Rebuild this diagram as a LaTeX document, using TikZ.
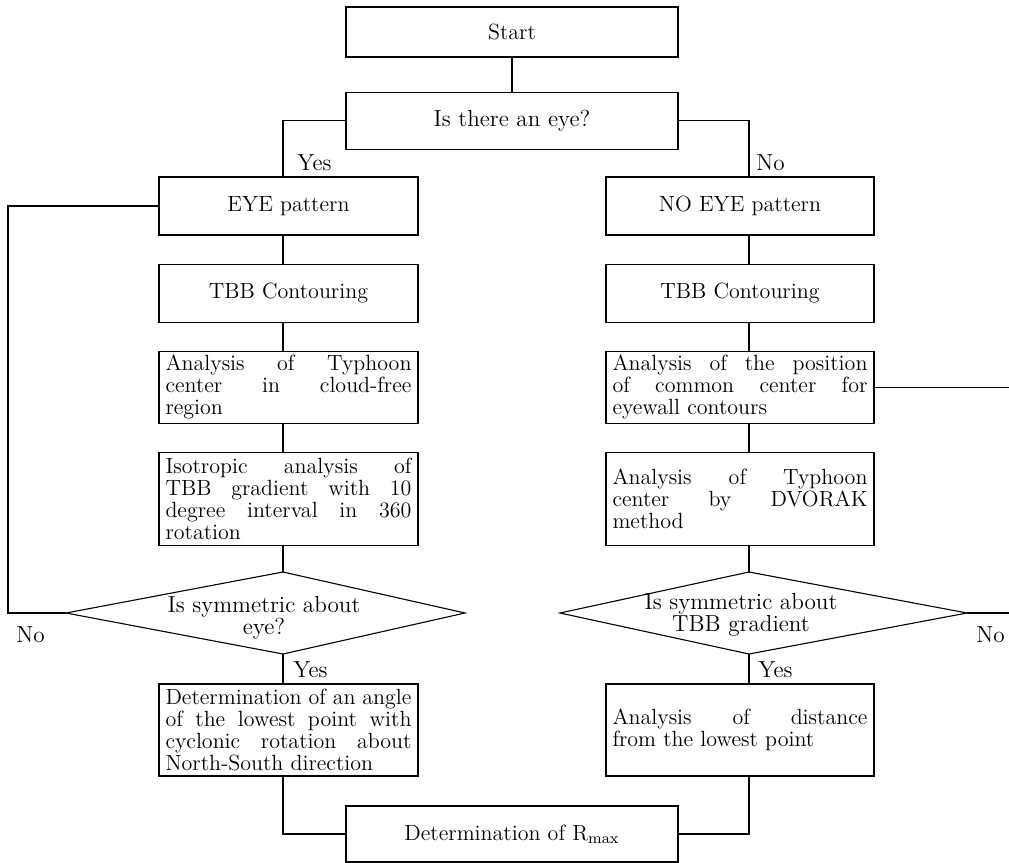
\documentclass[tikz,border=0pt]{standalone}
\usepackage{tikz}
\usetikzlibrary{positioning}

\newcommand{\flowfont}{\fontsize{11}{11}\selectfont}
\newcommand{\lblfont}{\fontsize{11.6}{11}\selectfont}

\tikzset{
    box/.style={draw, line width=0.55pt, font=\flowfont, align=center, inner xsep=3.25pt, inner ysep=2pt},
    lbox/.style={box, minimum width=129.5pt, minimum height=29pt},
    rbox/.style={box, minimum width=134pt, minimum height=29pt},
    ltext/.style={lbox, text width=123pt, align=justify},
    rtext/.style={rbox, text width=127.5pt, align=justify},
    wbox/.style={box, minimum width=166pt},
    lbl/.style={font=\lblfont, inner sep=0pt, anchor=west},
    link/.style={line width=0.55pt},
}

\begin{document}
\begin{tikzpicture}[x=0.5pt, y=-0.5pt]
    \useasboundingbox (0,0) rectangle (1009,863);

    \coordinate (lax) at (283,0);
    \coordinate (rax) at (749,0);
    \coordinate (lback) at (8,0);
    \coordinate (redge) at (1009,0);

    \node[wbox, minimum height=25pt] (start) at (512,32) {Start};
    \node[wbox, minimum height=28.5pt, below=17pt of start, font=\lblfont] (eye) {Is there an eye?};

    \node[lbox] (eyepat) at (288.5,206) {EYE pattern};
    \node[lbox, below=14pt of eyepat] (tbbl) {TBB Contouring};
    \node[ltext, minimum height=36pt, below=14pt of tbbl] (anl)
        {Analysis of Typhoon\linebreak center in cloud-free\linebreak region};
    \node[ltext, minimum height=46.5pt, below=14pt of anl] (isol)
        {Isotropic analysis of\linebreak TBB gradient with 10\linebreak degree interval in 360\linebreak rotation};

    \node[rbox] (noeyepat) at (740,206) {NO EYE pattern};
    \node[rbox, below=14pt of noeyepat] (tbbr) {TBB Contouring};
    \node[rtext, minimum height=36pt, below=14pt of tbbr] (anr)
        {Analysis of the position\linebreak of common center for\linebreak eyewall contours};
    \node[rtext, minimum height=46.5pt, below=14pt of anr] (dvr)
        {Analysis of Typhoon\linebreak center by DVORAK\linebreak method};

    \coordinate (dlt) at (283,572);
    \coordinate (dlr) at (465,613);
    \coordinate (dlb) at (283,654);
    \coordinate (dll) at (66,613);
    \coordinate (drt) at (749,572);
    \coordinate (drr) at (967,613);
    \coordinate (drb) at (749,654);
    \coordinate (drl) at (560,613);
    \draw[link] (dlt) -- (dlr) -- (dlb) -- (dll) -- cycle;
    \draw[link] (drt) -- (drr) -- (drb) -- (drl) -- cycle;
    \node[font=\lblfont, align=center, inner sep=0pt] (syml) at (264,618) {Is symmetric about\\eye?};
    \node[font=\lblfont, align=center, inner sep=0pt] (symr) at (741,615) {Is symmetric about\\TBB gradient};

    \node[ltext, minimum height=46pt] (detl) at (288.5,730)
        {Determination of an angle\linebreak of the lowest point with\linebreak cyclonic rotation about\linebreak North-South direction};
    \node[rtext, minimum height=46pt] (detr) at (740,730)
        {Analysis of distance\linebreak from the lowest point};

    \node[wbox, minimum height=28pt] (rmax) at (512,834) {Determination of R\textsubscript{max}};

    \node[lbl] (yes1) at (297,163) {Yes};
    \node[lbl] (no1) at (756,163) {No};
    \node[lbl] (yes2) at (293,670) {Yes};
    \node[lbl] (yes3) at (758,670) {Yes};
    \node[lbl] (no2) at (16,635) {No};
    \node[lbl] (no3) at (976,635) {No};

    \draw[link] (start) -- (eye);
    \draw[link] (eye.west) -| (eyepat.north -| lax);
    \draw[link] (eye.east) -| (noeyepat.north -| rax);
    \draw[link] (eyepat.south -| lax) -- (tbbl.north -| lax);
    \draw[link] (tbbl.south -| lax) -- (anl.north -| lax);
    \draw[link] (anl.south -| lax) -- (isol.north -| lax);
    \draw[link] (isol.south -| lax) -- (dlt);
    \draw[link] (dlb) -- (detl.north -| lax);
    \draw[link] (detl.south -| lax) |- (rmax.west);
    \draw[link] (noeyepat.south -| rax) -- (tbbr.north -| rax);
    \draw[link] (tbbr.south -| rax) -- (anr.north -| rax);
    \draw[link] (anr.south -| rax) -- (dvr.north -| rax);
    \draw[link] (dvr.south -| rax) -- (drt);
    \draw[link] (drb) -- (detr.north -| rax);
    \draw[link] (detr.south -| rax) |- (rmax.east);
    \draw[link] (dll) -| (lback |- eyepat.west) -- (eyepat.west);
    \draw[link] (anr.east) -- (anr.east -| redge);
    \draw[link] (drr) -- (drr -| redge);
\end{tikzpicture}
\end{document}
